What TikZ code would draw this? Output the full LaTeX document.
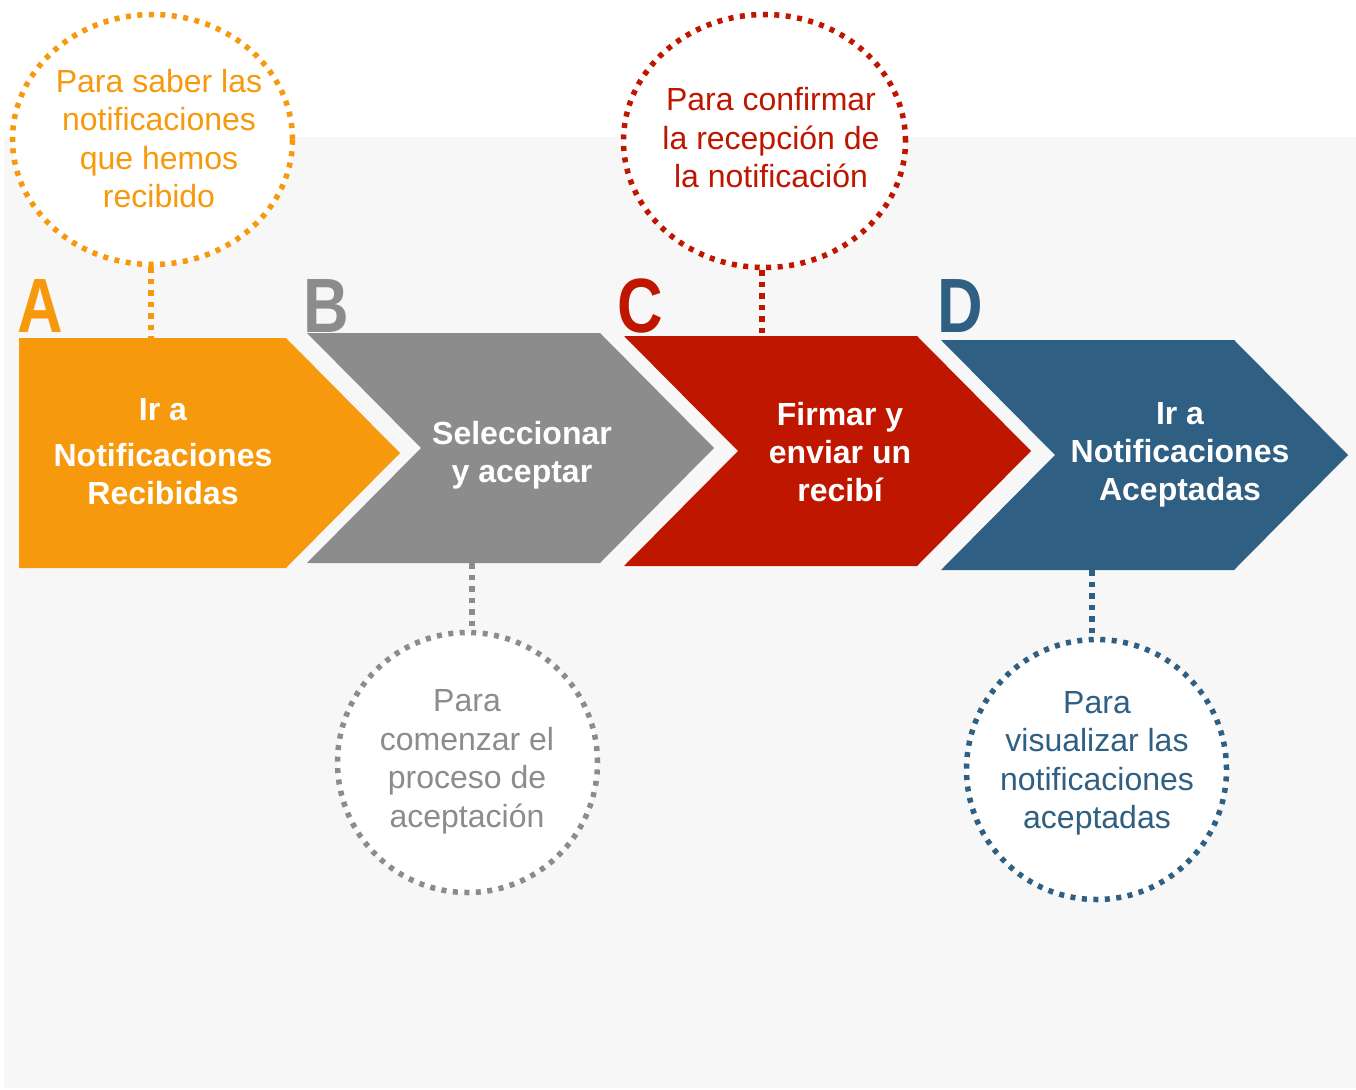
\documentclass[tikz,border=0pt]{standalone}
\usepackage{fontspec}
\setmainfont{Liberation Sans}
\usetikzlibrary{shapes.geometric}

\definecolor{naranja}{RGB}{247,153,12}
\definecolor{gris}{RGB}{140,140,140}
\definecolor{rojo}{RGB}{191,22,0}
\definecolor{azul}{RGB}{47,95,131}
\definecolor{fondo}{RGB}{247,247,247}

\tikzset{
    paso/.style={text=white, font=\bfseries\fontsize{32}{38}\selectfont, align=center, inner sep=0pt},
    nota/.style={draw=#1, fill=white, ellipse, inner sep=0pt, line width=5.5pt, dash pattern=on 5pt off 6.5pt},
    notatxt/.style={text=#1, font=\fontsize{32}{38.5}\selectfont, align=center, inner sep=0pt},
    enlace/.style={draw=#1, line width=5.5pt, dash pattern=on 5.5pt off 6pt},
    letra/.style={text=#1, font=\bfseries\fontsize{77}{77}\selectfont, inner sep=0pt, anchor=base west}
}

\begin{document}
\begin{tikzpicture}[x=1pt,y=-1pt]
            % background
            \useasboundingbox (0,0) rectangle (1356,1089);
            \fill[fondo] (4,137) rectangle (1356,1088);

            % chevrons
            \fill[naranja] (19,338) -- (286,338) -- (400,453) -- (286,568) -- (19,568) -- cycle;
            \foreach \x/\y/\c in {307/333/gris, 624/336/rojo, 941/340/azul}
                \fill[\c] (\x,\y) -- ++(293,0) -- ++(114,115) -- ++(-114,115) -- ++(-293,0) -- ++(114,-115) -- cycle;

            % step letters
            \node[letra=naranja] (letA) at (17,332) {\scalebox{0.82}[1]{A}};
            \node[letra=gris] (letB) at (303,332) {\scalebox{0.82}[1]{B}};
            \node[letra=rojo] (letC) at (617,332) {\scalebox{0.82}[1]{C}};
            \node[letra=azul] (letD) at (937,332) {\scalebox{0.82}[1]{D}};

            % step texts
            \node[paso] (pasoA) at (163,452) {Ir a\\[8pt]Notificaciones\\Recibidas};
            \node[paso] (pasoB) at (522,455) {Seleccionar\\y aceptar};
            \node[paso] (pasoC) at (840,452) {Firmar y\\enviar un\\recibí};
            \node[paso] (pasoD) at (1180,455) {Ir a\\Notificaciones\\Aceptadas};

            % notes
            \node[nota=naranja, minimum width=280, minimum height=250] (notaA) at (152.5,139.5) {};
            \node[nota=rojo, minimum width=282, minimum height=253] (notaC) at (764.5,141) {};
            \node[nota=gris, minimum width=260, minimum height=260] (notaB) at (467.5,762.5) {};
            \node[nota=azul, minimum width=260, minimum height=260] (notaD) at (1096.5,769.5) {};

            \node[notatxt=naranja] (txtA) at (159,138.5) {Para saber las\\notificaciones\\que hemos\\recibido};
            \node[notatxt=rojo] (txtC) at (771,138) {Para confirmar\\la recepción de\\la notificación};
            \node[notatxt=gris] (txtB) at (467,762) {Para\\comenzar el\\proceso de\\aceptación};
            \node[notatxt=azul] (txtD) at (1097,763.5) {Para\\visualizar las\\notificaciones\\aceptadas};

            % links
            \coordinate (finA) at (151,338);
            \coordinate (finB) at (472,563);
            \coordinate (finC) at (762,336);
            \coordinate (finD) at (1092,570);
            \draw[enlace=naranja] (finA |- notaA.south) -- (finA);
            \draw[enlace=gris] (finB) -- (finB |- notaB.north);
            \draw[enlace=rojo] (finC |- notaC.south) -- (finC);
            \draw[enlace=azul] (finD) -- (finD |- notaD.north);

\end{tikzpicture}
\end{document}
